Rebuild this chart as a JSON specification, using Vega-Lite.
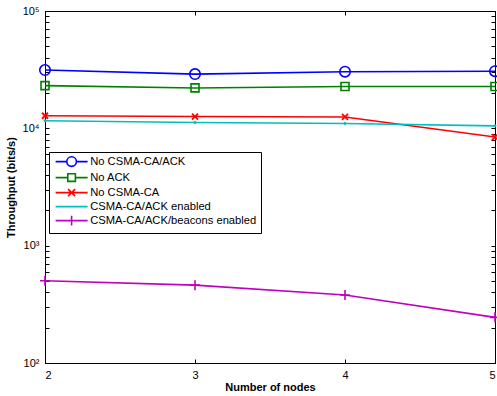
{
  "$schema": "https://vega.github.io/schema/vega-lite/v6.json",
  "width": 450,
  "height": 352,
  "autosize": "none",
  "padding": {"left": 45, "top": 11, "right": 2, "bottom": 33},
  "background": "white",
  "config": {
    "view": {"stroke": "black", "strokeWidth": 1},
    "font": "Liberation Sans",
    "axis": {
      "domainColor": "black",
      "tickColor": "black",
      "labelColor": "black",
      "titleColor": "black",
      "grid": false,
      "labelFont": "Liberation Sans",
      "titleFont": "Liberation Sans",
      "labelFontSize": 11,
      "titleFontSize": 11,
      "titleFontWeight": "bold"
    }
  },
  "data": {
    "values": [
      {"nodes": 2, "throughput": 31400, "series": "No CSMA-CA/ACK"},
      {"nodes": 3, "throughput": 29000, "series": "No CSMA-CA/ACK"},
      {"nodes": 4, "throughput": 30400, "series": "No CSMA-CA/ACK"},
      {"nodes": 5, "throughput": 30700, "series": "No CSMA-CA/ACK"},
      {"nodes": 2, "throughput": 23100, "series": "No ACK"},
      {"nodes": 3, "throughput": 22100, "series": "No ACK"},
      {"nodes": 4, "throughput": 22700, "series": "No ACK"},
      {"nodes": 5, "throughput": 22700, "series": "No ACK"},
      {"nodes": 2, "throughput": 12800, "series": "No CSMA-CA"},
      {"nodes": 3, "throughput": 12600, "series": "No CSMA-CA"},
      {"nodes": 4, "throughput": 12500, "series": "No CSMA-CA"},
      {"nodes": 5, "throughput": 8430, "series": "No CSMA-CA"},
      {"nodes": 2, "throughput": 11600, "series": "CSMA-CA/ACK enabled"},
      {"nodes": 3, "throughput": 11200, "series": "CSMA-CA/ACK enabled"},
      {"nodes": 4, "throughput": 11000, "series": "CSMA-CA/ACK enabled"},
      {"nodes": 5, "throughput": 10500, "series": "CSMA-CA/ACK enabled"},
      {"nodes": 2, "throughput": 502, "series": "CSMA-CA/ACK/beacons enabled"},
      {"nodes": 3, "throughput": 461, "series": "CSMA-CA/ACK/beacons enabled"},
      {"nodes": 4, "throughput": 380, "series": "CSMA-CA/ACK/beacons enabled"},
      {"nodes": 5, "throughput": 245, "series": "CSMA-CA/ACK/beacons enabled"}
    ]
  },
  "resolve": {"axis": {"x": "independent", "y": "independent"}},
  "encoding": {
    "x": {
      "field": "nodes", "type": "quantitative",
      "scale": {"domain": [2, 5], "nice": false, "zero": false}
    },
    "y": {
      "field": "throughput", "type": "quantitative",
      "scale": {"type": "log", "domain": [100, 100000], "nice": false}
    }
  },
  "layer": [
    {
      "mark": {"type": "line", "strokeWidth": 1.6, "clip": true},
      "encoding": {
        "x": {
          "field": "nodes", "type": "quantitative",
          "axis": {"values": [2, 3, 4, 5], "format": "d", "tickSize": -4, "labelPadding": 10, "title": "Number of nodes", "titlePadding": 1}
        },
        "y": {
          "field": "throughput", "type": "quantitative",
          "axis": {
            "values": [100, 200, 300, 400, 500, 600, 700, 800, 900, 1000, 2000, 3000, 4000, 5000, 6000, 7000, 8000, 9000, 10000, 20000, 30000, 40000, 50000, 60000, 70000, 80000, 90000, 100000],
            "labelExpr": "datum.value == 100 ? '10²' : datum.value == 1000 ? '10³' : datum.value == 10000 ? '10⁴' : datum.value == 100000 ? '10⁵' : ''",
            "tickSize": -4, "labelPadding": 10, "title": "Throughput (bits/s)", "titlePadding": 6
          }
        },
        "color": {
          "field": "series", "type": "nominal",
          "scale": {
            "domain": ["No CSMA-CA/ACK", "No ACK", "No CSMA-CA", "CSMA-CA/ACK enabled", "CSMA-CA/ACK/beacons enabled"],
            "range": ["#0000ff", "#008000", "#ff0000", "#00bfbf", "#bf00bf"]
          },
          "legend": {
            "orient": "none", "legendX": 4, "legendY": 141,
            "title": null,
            "strokeColor": "black", "fillColor": "white", "padding": 4,
            "symbolSize": 64, "symbolStrokeWidth": 1.6, "symbolFillColor": "transparent",
            "labelFont": "Liberation Sans", "labelFontSize": 11.2, "labelColor": "black", "labelOffset": 26, "labelLimit": 400,
            "rowPadding": 0,
            "encode": {
              "symbols": {
                "update": {
                  "shape": {"signal": "datum.value == 'No CSMA-CA/ACK' ? 'M-0.75,0L2.05,0A1.2,1.2 0 1,1 4.45,0A1.2,1.2 0 1,1 2.05,0M4.45,0L7.25,0' : datum.value == 'No ACK' ? 'M-0.75,0L2.3,0M4.2,0L7.25,0M2.3,-0.95L4.2,-0.95L4.2,0.95L2.3,0.95Z' : datum.value == 'No CSMA-CA' ? 'M-0.75,0L7.25,0M2.37,-0.88L4.13,0.88M2.37,0.88L4.13,-0.88' : datum.value == 'CSMA-CA/ACK enabled' ? 'M-0.75,0L7.25,0M3.1,0L3.4,0' : 'M-0.75,0L7.25,0M3.25,-1.2L3.25,1.2'"},
                  "fill": {"value": "transparent"},
                  "fillOpacity": {"value": 0}
                }
              }
            }
          }
        }
      }
    },
    {
      "transform": [{"filter": {"field": "series", "equal": "No CSMA-CA/ACK"}}],
      "mark": {"type": "point", "shape": "circle", "size": 110, "filled": false, "strokeWidth": 1.6, "opacity": 1, "clip": false},
      "encoding": {
        "x": {"field": "nodes", "type": "quantitative", "axis": {"orient": "top", "values": [2, 3, 4, 5], "labels": false, "tickSize": -4, "title": null}},
        "y": {
          "field": "throughput", "type": "quantitative",
          "axis": {
            "orient": "right",
            "values": [100, 200, 300, 400, 500, 600, 700, 800, 900, 1000, 2000, 3000, 4000, 5000, 6000, 7000, 8000, 9000, 10000, 20000, 30000, 40000, 50000, 60000, 70000, 80000, 90000, 100000],
            "labels": false, "tickSize": -4, "title": null
          }
        },
        "color": {"field": "series", "type": "nominal", "legend": null}
      }
    },
    {
      "transform": [{"filter": {"field": "series", "equal": "No ACK"}}],
      "mark": {"type": "point", "shape": "square", "size": 64, "filled": false, "strokeWidth": 1.6, "opacity": 1, "clip": false},
      "encoding": {
        "x": {"field": "nodes", "type": "quantitative", "axis": null},
        "y": {"field": "throughput", "type": "quantitative", "axis": null},
        "color": {"field": "series", "type": "nominal", "legend": null}
      }
    },
    {
      "transform": [{"filter": {"field": "series", "equal": "No CSMA-CA"}}],
      "mark": {"type": "point", "shape": "M-1,-1L1,1M-1,1L1,-1", "size": 36, "filled": false, "strokeWidth": 1.8, "opacity": 1, "clip": false},
      "encoding": {
        "x": {"field": "nodes", "type": "quantitative", "axis": null},
        "y": {"field": "throughput", "type": "quantitative", "axis": null},
        "color": {"field": "series", "type": "nominal", "legend": null}
      }
    },
    {
      "transform": [{"filter": {"field": "series", "equal": "CSMA-CA/ACK enabled"}}],
      "mark": {"type": "point", "shape": "circle", "size": 2, "filled": false, "strokeWidth": 1.5, "opacity": 1, "clip": false},
      "encoding": {
        "x": {"field": "nodes", "type": "quantitative", "axis": null},
        "y": {"field": "throughput", "type": "quantitative", "axis": null},
        "color": {"field": "series", "type": "nominal", "legend": null}
      }
    },
    {
      "transform": [{"filter": {"field": "series", "equal": "CSMA-CA/ACK/beacons enabled"}}],
      "mark": {"type": "point", "shape": "M-1,0L1,0M0,-1L0,1", "size": 100, "filled": false, "strokeWidth": 1.6, "opacity": 1, "clip": false},
      "encoding": {
        "x": {"field": "nodes", "type": "quantitative", "axis": null},
        "y": {"field": "throughput", "type": "quantitative", "axis": null},
        "color": {"field": "series", "type": "nominal", "legend": null}
      }
    }
  ]
}
